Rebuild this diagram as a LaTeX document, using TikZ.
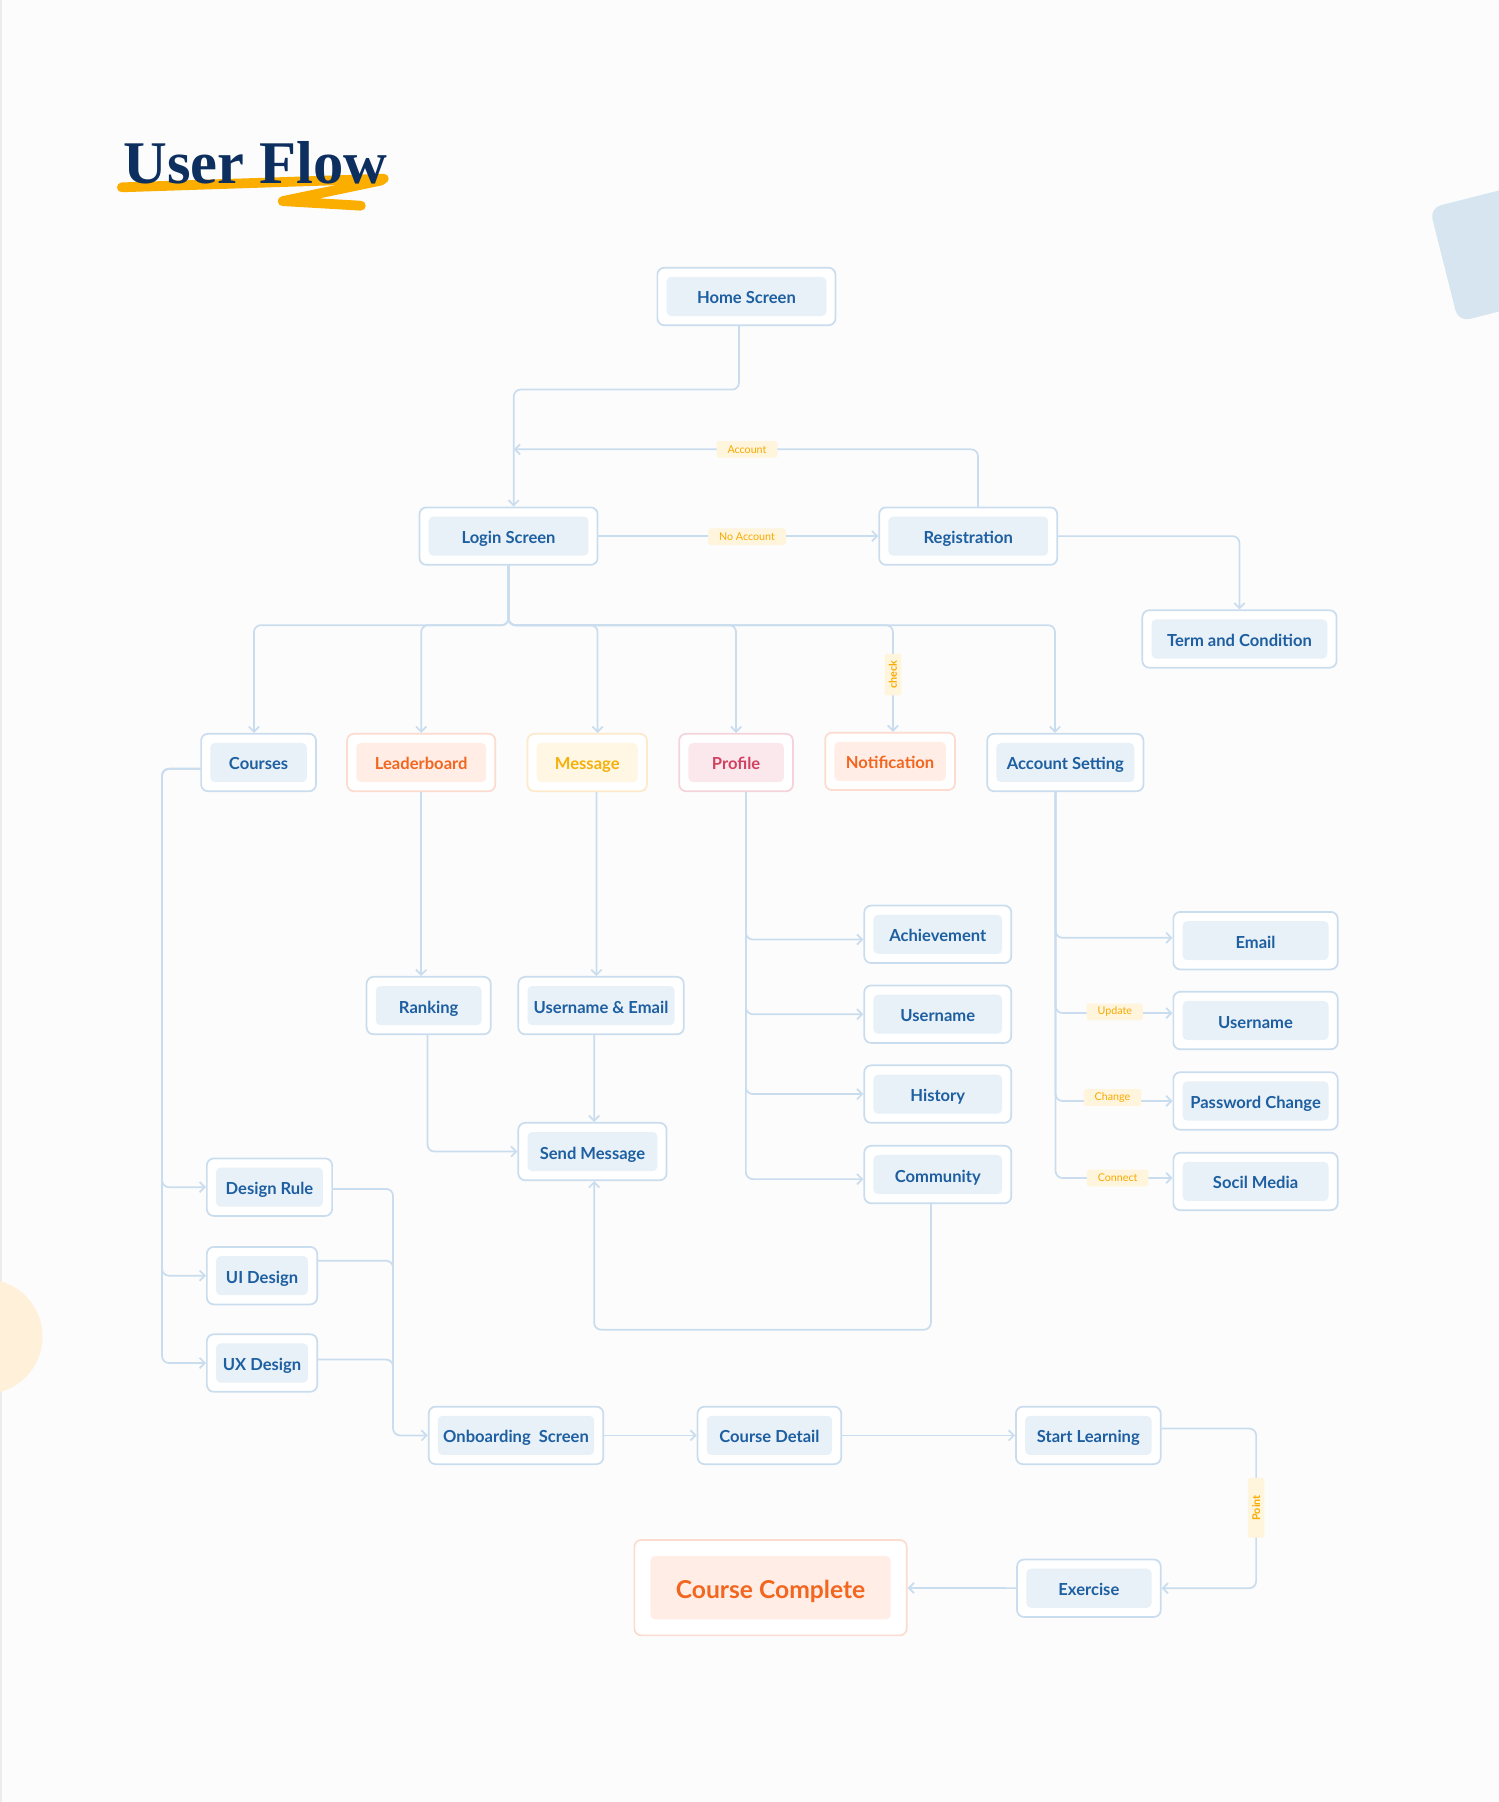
\documentclass[tikz,border=0pt]{standalone}
\usepackage{fontspec}
\setmainfont{Lato}
\newfontfamily\titrefont{Liberation Serif}
\usetikzlibrary{arrows.meta}

\definecolor{fond}{HTML}{FCFCFC}
\definecolor{bord}{HTML}{ECECEC}
\definecolor{trait}{HTML}{CADDEE}
\definecolor{bleu}{HTML}{1D5FA0}
\definecolor{bleuin}{HTML}{E8F0F8}
\definecolor{orangetxt}{HTML}{F2661F}
\definecolor{orangebord}{HTML}{FCDCCF}
\definecolor{orangein}{HTML}{FFEDE6}
\definecolor{jaunetxt}{HTML}{F5B00A}
\definecolor{jaunebord}{HTML}{FCEACA}
\definecolor{jaunein}{HTML}{FFF6E3}
\definecolor{rosetxt}{HTML}{D2415F}
\definecolor{rosebord}{HTML}{F5D3DA}
\definecolor{rosein}{HTML}{FAE8EC}
\definecolor{etiq}{HTML}{F7AA00}
\definecolor{etiqfond}{HTML}{FFF4DC}
\definecolor{marine}{HTML}{0D2F5F}
\definecolor{surligne}{HTML}{FBAD00}
\definecolor{deco}{HTML}{D7E5F0}
\definecolor{rond}{HTML}{FFF0DA}

\tikzset{
  marge/.initial=1.6mm,
  boite/.style n args={3}{draw=#1, fill=white, line width=0.3mm, rounded corners=1.2mm,
    minimum height=10mm, text=#3, font=\bfseries\fontsize{8.2}{10}\selectfont,
    text height=2.6mm, text depth=0pt,
    path picture={\fill[#2, rounded corners=0.8mm]
      ([shift={(\pgfkeysvalueof{/tikz/marge},\pgfkeysvalueof{/tikz/marge})}]path picture bounding box.south west) rectangle
      ([shift={(-\pgfkeysvalueof{/tikz/marge},-\pgfkeysvalueof{/tikz/marge})}]path picture bounding box.north east);}},
  bleue/.style={boite={trait}{bleuin}{bleu}},
  orangee/.style={boite={orangebord}{orangein}{orangetxt}},
  jaunee/.style={boite={jaunebord}{jaunein}{jaunetxt}},
  rosee/.style={boite={rosebord}{rosein}{rosetxt}},
  lg/.style={minimum width=#1*0.2mm},
  lien/.style={draw=trait, line width=0.3mm, rounded corners=1.2mm},
  fleche/.style={lien, -{Straight Barb[length=0.9mm,width=1.8mm]}},
  etiquette/.style={fill=etiqfond, text=etiq, font=\fontsize{5.3}{6}\selectfont,
    inner xsep=1.9mm, inner ysep=0pt, minimum height=2.9mm, rounded corners=0.3mm},
}

\begin{document}
\begin{tikzpicture}[x=0.2mm, y=-0.2mm]
    % Fond
    \fill[fond] (0,0) rectangle (1304,1568);
    \useasboundingbox (0,0) rectangle (1304,1568);
    \draw[bord, line width=0.3mm] (1,0) -- (1,1568);
    \fill[deco, rounded corners=2mm] (1244,181) -- (1269,280) -- (1368,255) -- (1343,156) -- cycle;
    \fill[rond] (-13,1163) circle (10mm);

    % Titre
    \draw[surligne, line width=1.7mm, line cap=round] (106,163) -- (334,155.5);
    \draw[surligne, line width=1.7mm, line cap=round, line join=round] (332,157) -- (246,175) -- (314,179);
    \node[anchor=base west, inner sep=0pt, text=marine, font=\titrefont\bfseries\fontsize{30}{31}\selectfont] (titre) at (107,160) {User Flow};

    % Boîtes
    \node[bleue, lg=155] (home) at (649.5,258) {Home Screen};
    \node[bleue, lg=155] (login) at (442.5,466.5) {Login Screen};
    \node[bleue, lg=155] (reg) at (842.5,466.5) {Registration};
    \node[bleue, lg=169] (term) at (1078.5,556) {Term and Condition};
    \node[bleue, lg=100] (courses) at (225,663.5) {Courses};
    \node[orangee, lg=129] (leader) at (366.5,663.5) {Leaderboard};
    \node[jaunee, lg=104] (message) at (511,663.5) {Message};
    \node[rosee, lg=99] (profile) at (640.5,663.5) {Profile};
    \node[orangee, lg=113] (notif) at (774.5,662.5) {Notification};
    \node[bleue, lg=136] (accset) at (927,663.5) {Account Setting};
    \node[bleue, lg=128] (achieve) at (816,813) {Achievement};
    \node[bleue, lg=128] (userp) at (816,882.5) {Username};
    \node[bleue, lg=128] (history) at (816,952) {History};
    \node[bleue, lg=128] (community) at (816,1022) {Community};
    \node[bleue, lg=143] (email) at (1092.5,818.5) {Email};
    \node[bleue, lg=143] (usera) at (1092.5,888) {Username};
    \node[bleue, lg=143] (pwd) at (1092.5,958) {Password Change};
    \node[bleue, lg=143] (social) at (1092.5,1028) {Socil Media};
    \node[bleue, lg=108] (ranking) at (373,875) {Ranking};
    \node[bleue, lg=144] (usermail) at (523,875) {Username \& Email};
    \node[bleue, lg=129] (send) at (515.5,1002) {Send Message};
    \node[bleue, lg=109] (drule) at (234.5,1033) {Design Rule};
    \node[bleue, lg=96] (uid) at (228,1110) {UI Design};
    \node[bleue, lg=96] (uxd) at (228,1186) {UX Design};
    \node[bleue, lg=152] (onboard) at (449,1249) {Onboarding\ \ Screen};
    \node[bleue, lg=125] (cdetail) at (669.5,1249) {Course Detail};
    \node[bleue, lg=126] (start) at (947,1249) {Start Learning};
    \node[bleue, lg=125] (exercise) at (947.5,1382) {Exercise};
    \node[orangee, lg=237, minimum height=16.6mm, marge=2.8mm, text height=3.6mm,
      font=\bfseries\fontsize{12.2}{14}\selectfont] (complete) at (670.5,1381.5) {Course Complete};

    % Liaisons du haut
    \coordinate (split) at (442.5,544);
    \draw[fleche] ([xshift=-1.3mm]home.south) |- (447,339) -- ([xshift=0.9mm]login.north);
    \draw[fleche] ([xshift=1.7mm]reg.north) |- (447,391);
    \draw[fleche] (login) -- (reg);
    \draw[fleche] (reg.east) -| (term.north);

    % Branches sous Login Screen
    \draw[fleche] (login.south) -- (split) -| ([xshift=-0.8mm]courses.north);
    \draw[fleche] (login.south) -- (split) -| (leader.north);
    \draw[fleche] (login.south) -- (split) -| ([xshift=1.8mm]message.north);
    \draw[fleche] (login.south) -- (split) -| (profile.north);
    \draw[fleche] (login.south) -- (split) -| ([xshift=0.5mm]notif.north);
    \draw[fleche] (login.south) -- (split) -| ([xshift=-1.8mm]accset.north);

    % Leaderboard et Message
    \draw[fleche] (leader.south) -- (leader.south |- ranking.north);
    \draw[fleche] ([xshift=1.6mm]message.south) -- ([xshift=-0.8mm]usermail.north);
    \draw[fleche] ([xshift=-0.2mm]ranking.south) |- (send.west);
    \draw[fleche] ([xshift=-1.2mm]usermail.south) -- ([xshift=0.3mm]send.north);

    % Profile
    \draw[fleche] ([xshift=1.7mm]profile.south) |- ([yshift=-0.9mm]achieve.west);
    \draw[fleche] ([xshift=1.7mm]profile.south) |- (userp.west);
    \draw[fleche] ([xshift=1.7mm]profile.south) |- (history.west);
    \draw[fleche] ([xshift=1.7mm]profile.south) |- ([yshift=-0.8mm]community.west);
    \coordinate (boucle) at (517,1157);
    \draw[fleche] ([xshift=-1.2mm]community.south) |- (boucle) -- ([xshift=0.3mm]send.south);

    % Account Setting
    \draw[fleche] ([xshift=-1.7mm]accset.south) |- ([yshift=0.5mm]email.west);
    \draw[fleche] ([xshift=-1.7mm]accset.south) |- ([yshift=1.3mm]usera.west);
    \draw[fleche] ([xshift=-1.7mm]accset.south) |- (pwd.west);
    \draw[fleche] ([xshift=-1.7mm]accset.south) |- ([yshift=0.6mm]social.west);

    % Courses
    \coordinate (bus) at (141,669);
    \draw[fleche] ([yshift=-1.1mm]courses.west) -- (bus) |- (drule.west);
    \draw[fleche] ([yshift=-1.1mm]courses.west) -- (bus) |- (uid.west);
    \draw[fleche] ([yshift=-1.1mm]courses.west) -- (bus) |- (uxd.west);
    \coordinate (bus2) at (342,1249);
    \draw[fleche] ([yshift=-0.3mm]drule.east) -| (bus2) -- (onboard.west);
    \draw[lien] ([yshift=2.6mm]uid.east) -| (342,1200);
    \draw[lien] ([yshift=0.6mm]uxd.east) -| (342,1230);

    % Parcours du cours
    \draw[fleche] (onboard) -- (cdetail);
    \draw[fleche] (cdetail) -- (start);
    \coordinate (point) at (1093,1312);
    \draw[fleche] ([yshift=1.2mm]start.east) -| (point) |- (exercise.east);
    \draw[fleche] (exercise) -- (complete);

    % Etiquettes
    \node[etiquette] (lacc) at (650,391) {Account};
    \node[etiquette] (lnoacc) at (650,467) {No Account};
    \node[etiquette, rotate=90, inner xsep=1.2mm, font=\bfseries\fontsize{5.3}{6}\selectfont] (lcheck) at (777,587) {check};
    \node[etiquette] (lupd) at (970,880.5) {Update};
    \node[etiquette] (lchg) at (968,955) {Change};
    \node[etiquette] (lcon) at (972.5,1025) {Connect};
    \node[etiquette, rotate=90, inner xsep=3mm, font=\bfseries\fontsize{5.3}{6}\selectfont] (lpoint) at (1093,1312) {Point};
\end{tikzpicture}
\end{document}
